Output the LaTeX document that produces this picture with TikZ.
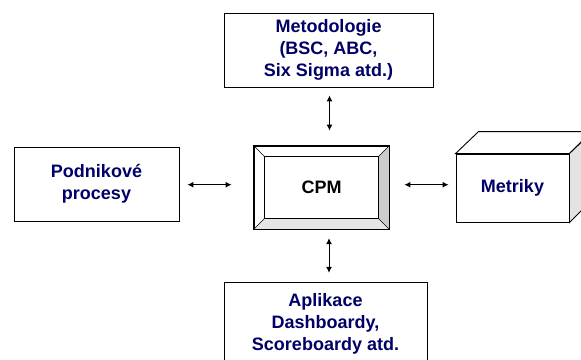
\documentclass[tikz,border=0pt]{standalone}
\usepackage{fontspec}
\setmainfont{Liberation Sans}
\usetikzlibrary{arrows.meta,positioning,calc}
\definecolor{textblue}{RGB}{0,0,102}

\begin{document}
\begin{tikzpicture}[x=1pt,y=-1pt,>={Latex[length=6pt,width=6pt]},
  box/.style={draw,line width=0.9pt,fill=white,inner sep=0pt},
  txt/.style={font=\bfseries\fontsize{18}{22}\selectfont,text=textblue,align=center},
  link/.style={<->,line width=1pt}]
\useasboundingbox (0,0) rectangle (581,359);
\clip (0,0) rectangle (581,359);
% boxes
\node[box,txt,minimum width=209pt,minimum height=74pt] (meto) at (328.5,50) {Metodologie\\(BSC, ABC,\\Six Sigma atd.)};
\node[box,txt,minimum width=165pt,minimum height=74pt] (proc) at (96.5,184) {Podnikové\\procesy};
\node[box,txt,minimum width=203pt,minimum height=83pt] (apl) at (325.5,323.5) {Aplikace\\Dashboardy,\\Scoreboardy atd.};
% CPM with bevel
\node[box,minimum width=135pt,minimum height=83pt] (cpm) at (321.5,187.5) {};
\coordinate (cin1) at ($(cpm.north west)+(11,11)$);
\coordinate (cin2) at ($(cpm.north east)+(-11,11)$);
\coordinate (cin3) at ($(cpm.south east)+(-11,-11)$);
\coordinate (cin4) at ($(cpm.south west)+(11,-11)$);
\fill[gray!40] (cpm.north east)--(cin2)--(cin3)--(cpm.south east)--cycle;
\fill[gray!20] (cpm.south west)--(cin4)--(cin3)--(cpm.south east)--cycle;
\draw[line width=0.9pt] (cpm.north west) rectangle (cpm.south east);
\draw[line width=0.9pt] (cin1)--(cin2)--(cin3)--(cin4)--cycle;
\draw[line width=0.6pt] (cpm.north west)--(cin1) (cpm.north east)--(cin2)
  (cpm.south east)--(cin3) (cpm.south west)--(cin4);
\node[font=\bfseries\fontsize{18}{22}\selectfont] at (cpm.center) {CPM};
% Metriky as a cube
\node[box,txt,minimum width=113pt,minimum height=68pt] (metr) at (512.5,188) {Metriky};
\draw[line width=0.9pt,fill=white] (metr.north west)--++(23,-22)--++(113,0)--(metr.north east)--cycle;
\draw[line width=0.9pt,fill=gray!22] (metr.north east)--++(23,-22)--++(0,68)--(metr.south east)--cycle;
% connectors
\draw[link] ($(meto.south)+(1,8)$)--($(cpm.north)+(8,-15)$);
\draw[link] ($(cpm.south)+(7.5,8.7)$)--($(apl.north)+(3.5,-8.7)$);
\draw[link] ($(proc.east)+(8,0.7)$)--($(cpm.west)+(-22,-2.8)$);
\draw[link] ($(cpm.east)+(15,-2.8)$)--($(metr.west)+(-7,-3.3)$);
\end{tikzpicture}
\end{document}
